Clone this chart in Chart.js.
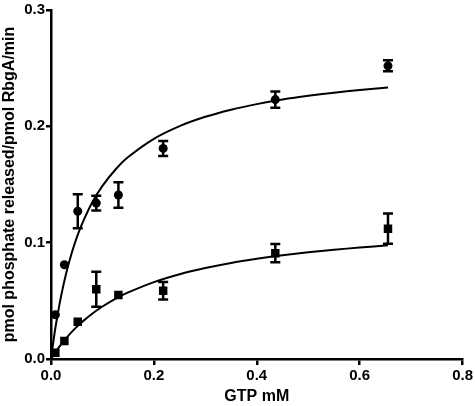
<!DOCTYPE html>
<html>
<head>
<meta charset="utf-8">
<script src="https://cdn.jsdelivr.net/npm/chart.js@4/dist/chart.umd.min.js"></script>
<style>
  html, body { margin: 0; padding: 0; background: #fff; }
  #wrap { width: 475px; height: 406px; }
</style>
</head>
<body>
<div id="wrap"><canvas id="chart" width="475" height="406"></canvas></div>
<script>
// GTP concentrations (mM)
const gtpX = [0.0085, 0.026, 0.052, 0.088, 0.131, 0.218, 0.436, 0.655];

// circles
const circleY = [0.038, 0.081, 0.127, 0.134, 0.141, 0.181, 0.223, 0.252];
const circleErr = [0, 0, 0.0146, 0.0064, 0.011, 0.0064, 0.007, 0.0047];

// squares
const squareY = [0.0054, 0.0155, 0.032, 0.060, 0.055, 0.0586, 0.091, 0.112];
const squareErr = [0, 0, 0, 0.015, 0, 0.0075, 0.0078, 0.013];

// fitted curves
const curveX = [0, 0.005, 0.01, 0.02, 0.03, 0.04, 0.05, 0.06, 0.08, 0.10, 0.125, 0.15, 0.2, 0.25, 0.3, 0.35, 0.4, 0.45, 0.5, 0.55, 0.6, 0.655];
const circleFit = [0, 0.0163, 0.0307, 0.0549, 0.0745, 0.0907, 0.1043, 0.1158, 0.1345, 0.1488, 0.1627, 0.1736, 0.1893, 0.2002, 0.2082, 0.2143, 0.2191, 0.2230, 0.2262, 0.2289, 0.2312, 0.2334];
const squareFit = [0, 0.0034, 0.0067, 0.0127, 0.0181, 0.0231, 0.0276, 0.0317, 0.0389, 0.0451, 0.0517, 0.0572, 0.0661, 0.0729, 0.0782, 0.0826, 0.0861, 0.0891, 0.0917, 0.0939, 0.0958, 0.0977];

const xTicks = [0, 0.2, 0.4, 0.6, 0.8];
const yTicks = [0, 0.1, 0.2, 0.3];

function pts(xs, ys) {
    return xs.map((x, i) => ({ x: x, y: ys[i] }));
}

// error bars drawn through the chart scales
const errorBars = {
    id: 'errorBars',
    afterDatasetsDraw(chart) {
        const ctx = chart.ctx;
        const xs = chart.scales.x;
        const ys = chart.scales.y;
        chart.data.datasets.forEach(ds => {
            if (!ds.errors) return;
            ds.data.forEach((p, i) => {
                const e = ds.errors[i];
                if (!e) return;
                const px = xs.getPixelForValue(p.x);
                const top = ys.getPixelForValue(p.y + e);
                const bot = ys.getPixelForValue(p.y - e);
                ctx.save();
                ctx.strokeStyle = '#000';
                ctx.lineWidth = 2.5;
                ctx.beginPath();
                ctx.moveTo(px, top);
                ctx.lineTo(px, bot);
                ctx.moveTo(px - 5, top);
                ctx.lineTo(px + 5, top);
                ctx.moveTo(px - 5, bot);
                ctx.lineTo(px + 5, bot);
                ctx.stroke();
                ctx.restore();
            });
        });
    }
};

const family = '"Liberation Sans", Arial, sans-serif';
const tickFont = { family: family, size: 15, weight: 'bold' };
const titleFont = { family: family, size: 16, weight: 'bold' };

new Chart(document.getElementById('chart').getContext('2d'), {
    type: 'scatter',
    data: {
        datasets: [{
            data: pts(curveX, circleFit),
            showLine: true,
            borderColor: '#000',
            borderWidth: 2,
            pointRadius: 0,
            tension: 0.3
        }, {
            data: pts(curveX, squareFit),
            showLine: true,
            borderColor: '#000',
            borderWidth: 2,
            pointRadius: 0,
            tension: 0.3
        }, {
            data: pts(gtpX, circleY),
            errors: circleErr,
            pointStyle: 'circle',
            pointRadius: 4.5,
            backgroundColor: '#000',
            borderColor: '#000',
            borderWidth: 0
        }, {
            data: pts(gtpX, squareY),
            errors: squareErr,
            pointStyle: 'rect',
            pointRadius: 6,
            backgroundColor: '#000',
            borderColor: '#000',
            borderWidth: 0
        }]
    },
    options: {
        responsive: false,
        animation: false,
        layout: { padding: { top: 6, right: 10, left: 0, bottom: 0 } },
        plugins: {
            legend: { display: false },
            tooltip: { enabled: false }
        },
        scales: {
            x: {
                type: 'linear',
                min: 0,
                max: 0.8,
                afterBuildTicks: s => { s.ticks = xTicks.map(v => ({ value: v })); },
                ticks: {
                    color: '#000',
                    font: tickFont,
                    padding: 2,
                    callback: v => v.toFixed(1)
                },
                grid: { drawOnChartArea: false, drawTicks: true, tickLength: 6, color: '#000', lineWidth: 2.5 },
                border: { display: true, color: '#000', width: 2.5 },
                title: { display: true, text: 'GTP mM', color: '#000', font: titleFont, padding: { top: 3, bottom: 0 } },
                afterFit: s => { s.height = 47; }
            },
            y: {
                type: 'linear',
                min: 0,
                max: 0.3,
                afterBuildTicks: s => { s.ticks = yTicks.map(v => ({ value: v })); },
                ticks: {
                    color: '#000',
                    font: tickFont,
                    padding: 1,
                    callback: v => v.toFixed(1)
                },
                grid: { drawOnChartArea: false, drawTicks: true, tickLength: 5, color: '#000', lineWidth: 2.5 },
                border: { display: true, color: '#000', width: 2.5 },
                title: { display: true, text: 'pmol phosphate released/pmol RbgA/min', color: '#000', font: titleFont, padding: { top: 0, bottom: 1 } },
                afterFit: s => { s.width = 51; }
            }
        }
    },
    plugins: [errorBars]
});
</script>
</body>
</html>
